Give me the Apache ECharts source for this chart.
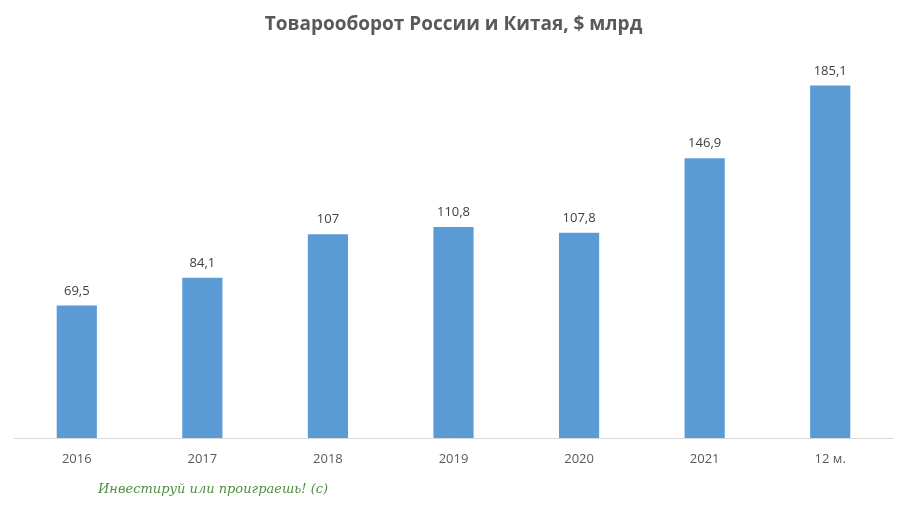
<!DOCTYPE html>
<html>
<head>
<meta charset="utf-8">
<script src="https://cdn.jsdelivr.net/npm/echarts@6/dist/echarts.min.js"></script>
<style>html,body{margin:0;padding:0;background:#fff}#main{width:907px;height:512px}</style>
</head>
<body>
<div id="main"></div>
<script>
const categories = ['2016', '2017', '2018', '2019', '2020', '2021', '12 м.'];
const values = [69.5, 84.1, 107, 110.8, 107.8, 146.9, 185.1];

const chart = echarts.init(document.getElementById('main'));
chart.setOption({
  animation: false,
  title: {
    text: 'Товарооборот России и Китая, $ млрд',
    left: 'center',
    top: 10,
    textStyle: { fontFamily: 'Open Sans', fontSize: 19, fontWeight: 'bold', color: '#595959' }
  },
  grid: { left: 14, right: 14, top: 57, bottom: 74 },
  xAxis: {
    type: 'category',
    data: categories,
    axisTick: { show: false },
    axisLine: { lineStyle: { color: '#d9d9d9' } },
    axisLabel: { color: '#595959', fontSize: 13, margin: 15, fontFamily: 'Open Sans' }
  },
  yAxis: { type: 'value', min: 0, max: 200, show: false, splitLine: { show: false } },
  series: [{
    type: 'bar',
    data: values,
    barWidth: '32%',
    itemStyle: { color: '#5b9bd5' },
    label: {
      show: true, position: 'top', distance: 8, color: '#404040', fontSize: 13, fontFamily: 'Open Sans',
      formatter: p => String(p.value).replace('.', ',')
    }
  }],
  graphic: [{
    type: 'text', left: 98, top: 483,
    style: { text: 'Инвестируй или проиграешь! (с)', fill: '#4f8f3f', font: 'italic 13px "DejaVu Serif"' }
  }]
});
</script>
</body>
</html>
